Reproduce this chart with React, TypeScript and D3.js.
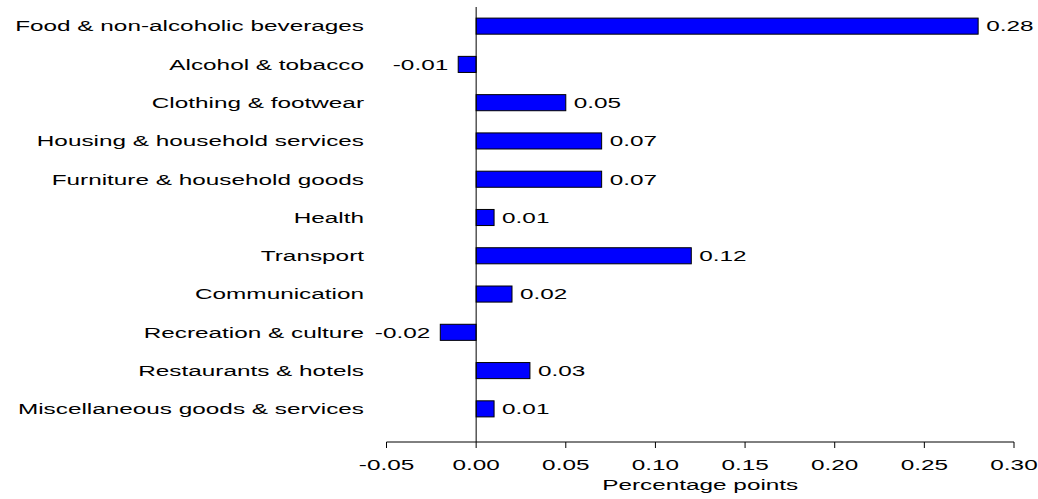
import React from "react";
import * as d3 from "d3";

const categories = [
  "Food & non-alcoholic beverages",
  "Alcohol & tobacco",
  "Clothing & footwear",
  "Housing & household services",
  "Furniture & household goods",
  "Health",
  "Transport",
  "Communication",
  "Recreation & culture",
  "Restaurants & hotels",
  "Miscellaneous goods & services",
];
const values = [0.28, -0.01, 0.05, 0.07, 0.07, 0.01, 0.12, 0.02, -0.02, 0.03, 0.01];
const ticks = [-0.05, 0, 0.05, 0.1, 0.15, 0.2, 0.25, 0.3];
const axisTitle = "Percentage points";

const W = 1038;
const H = 499;
const FONT = "'Liberation Sans', Arial, sans-serif";
const FS = 15.5;
const SX = 1.57;

const fmt = (v: number) => (v < 0 ? "-" : "") + Math.abs(v).toFixed(2);

function T({ x, y, anchor, children }: { x: number; y: number; anchor: string; children: React.ReactNode }) {
  return (
    <text
      transform={`translate(${x},${y}) scale(${SX},1)`}
      textAnchor={anchor}
      dominantBaseline="central"
      fontSize={FS}
      fill="#000"
    >
      {children}
    </text>
  );
}

export default function App() {
  const x = d3.scaleLinear().domain([-0.05, 0.3]).range([386.5, 1014]);
  const y = d3.scaleBand<string>().domain(categories).range([7, 428]).paddingInner(0.58).paddingOuter(0.29);
  const axisY = 442;
  const x0 = x(0);
  return (
    <svg width={W} height={H} style={{ position: "absolute", left: 0, top: 0 }} fontFamily={FONT}>
      <rect width={W} height={H} fill="#fff" />
      {categories.map((c, i) => {
        const v = values[i];
        const yy = y(c)!;
        const bh = y.bandwidth();
        const xa = Math.min(x(v), x0);
        const xb = Math.max(x(v), x0);
        return (
          <g key={c}>
            <T x={364} y={yy + bh / 2} anchor="end">
              {c}
            </T>
            <rect x={xa} y={yy} width={xb - xa} height={bh} fill="#0000FF" stroke="#000" strokeWidth={1} />
            <T x={v >= 0 ? xb + 8 : xa - 10} y={yy + bh / 2} anchor={v >= 0 ? "start" : "end"}>
              {fmt(v)}
            </T>
          </g>
        );
      })}
      <line x1={x0} x2={x0} y1={7} y2={axisY} stroke="#000" strokeWidth={1} />
      <line x1={x(-0.05)} x2={x(0.3)} y1={axisY} y2={axisY} stroke="#000" strokeWidth={1} />
      {ticks.map((t) => (
        <g key={t}>
          <line x1={x(t)} x2={x(t)} y1={axisY} y2={axisY + 6} stroke="#000" strokeWidth={1} />
          <T x={x(t)} y={465} anchor="middle">
            {fmt(t)}
          </T>
        </g>
      ))}
      <T x={x(0.125)} y={485} anchor="middle">
        {axisTitle}
      </T>
    </svg>
  );
}
